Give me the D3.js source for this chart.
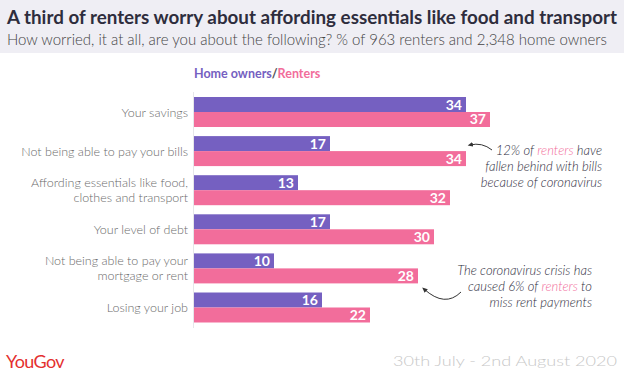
<!DOCTYPE html>
<html><head><meta charset="utf-8">
<script src="https://cdn.jsdelivr.net/npm/d3@7/dist/d3.min.js"></script>
<style>html,body{margin:0;padding:0;background:#fff;}svg{display:block;font-family:Lato,"Open Sans",sans-serif;}</style>
</head><body>
<svg id="c" width="624" height="375"></svg>
<script>
const categories = [
  ["Your savings"],
  ["Not being able to pay your bills"],
  ["Affording essentials like food,", "clothes and transport"],
  ["Your level of debt"],
  ["Not being able to pay your", "mortgage or rent"],
  ["Losing your job"]
];
const series = ["Home owners", "Renters"];
const homeOwners = [34, 17, 13, 17, 10, 16];
const renters = [37, 34, 32, 30, 28, 22];
const colors = ["#7560c1", "#f26d9b"];

const svg = d3.select("#c");
svg.append("rect").attr("x",0).attr("y",0).attr("width",624).attr("height",53).attr("fill","#efeef4");
svg.append("text").attr("x",7).attr("y",24).attr("font-size",19).attr("font-weight",700).attr("fill","#2e2d3d")
  .attr("textLength",610).attr("lengthAdjust","spacingAndGlyphs")
  .text("A third of renters worry about affording essentials like food and transport");
svg.append("text").attr("x",7).attr("y",45).attr("font-size",15).attr("font-weight",300).attr("fill","#444")
  .text("How worried, it at all, are you about the following? % of 963 renters and 2,348 home owners");

const x = d3.scaleLinear().domain([0, 40]).range([194, 514]);
const y = d3.scaleBand().domain(d3.range(categories.length)).range([92.45, 327.05]).paddingInner(0.233).paddingOuter(0.1165);
const ys = d3.scaleBand().domain(series).range([0, y.bandwidth()]);

// legend
const lg = svg.append("text").attr("x",194).attr("y",78).attr("font-size",12.5).attr("font-weight",700);
lg.append("tspan").attr("fill",colors[0]).text("Home owners");
lg.append("tspan").attr("fill","#555").text("/");
lg.append("tspan").attr("fill",colors[1]).text("Renters");

svg.append("line").attr("x1",x(0)-0.5).attr("x2",x(0)-0.5).attr("y1",92).attr("y2",328).attr("stroke","#e6e6ea").attr("stroke-width",1);

const data = categories.map((c,i)=>({i, vals:[homeOwners[i], renters[i]]}));
const g = svg.append("g").selectAll("g").data(data).join("g").attr("transform", d=>`translate(0,${y(d.i)})`);
g.selectAll("rect").data(d=>d.vals.map((v,k)=>({v,k}))).join("rect")
  .attr("x", x(0)).attr("y", d=>ys(series[d.k])).attr("width", d=>x(d.v)-x(0)).attr("height", ys.bandwidth())
  .attr("fill", d=>colors[d.k]);
g.selectAll("text.v").data(d=>d.vals.map((v,k)=>({v,k}))).join("text").attr("class","v")
  .attr("x", d=>x(d.v)-4).attr("y", d=>ys(series[d.k])+ys.bandwidth()/2+5).attr("text-anchor","end")
  .attr("font-size",14).attr("font-weight",700).attr("fill","#fff").text(d=>d.v);

// category labels
const cl = svg.append("g").selectAll("text").data(categories).join("text")
  .attr("text-anchor","end").attr("font-size",12.5).attr("font-weight",300).attr("fill","#6b6b6b")
  .attr("y",(d,i)=>y(i)+y.bandwidth()/2 + 4.5 - (d.length-1)*7.5);
cl.selectAll("tspan").data(d=>d).join("tspan").attr("x",188).attr("dy",(d,j)=>j===0?0:15).text(d=>d);

// annotations
function annot(lines, xr, y0, lh) {
  const t = svg.append("text").attr("text-anchor","end").attr("font-size",13).attr("font-style","italic").attr("font-weight",300).attr("fill","#2e2d3d");
  lines.forEach((ln,j)=>{
    const ts = t.append("tspan").attr("x",xr).attr("y",y0+j*lh);
    ln.forEach(seg=>ts.append("tspan").attr("fill",seg[1]||"#2e2d3d").text(seg[0]));
  });
}
annot([[["12% of "],["renters",colors[1]],[" have"]],[["fallen behind with bills"]],[["because of coronavirus"]]], 602, 155, 16);
annot([[["The coronavirus crisis has"]],[["caused 6% of "],["renters",colors[1]],[" to"]],[["miss rent payments"]]], 592, 275, 16);

svg.append("defs").append("marker").attr("id","ah").attr("viewBox","0 0 10 10").attr("refX",5).attr("refY",5)
  .attr("markerWidth",6).attr("markerHeight",6).attr("orient","auto-start-reverse")
  .append("path").attr("d","M0,1 L9,5 L0,9 z").attr("fill","#333");
svg.append("path").attr("d","M492,150 Q482,142 470,145").attr("fill","none").attr("stroke","#333").attr("stroke-width",1).attr("marker-end","url(#ah)");
svg.append("path").attr("d","M461,292 Q445,308 424,289").attr("fill","none").attr("stroke","#333").attr("stroke-width",1).attr("marker-end","url(#ah)");

// footer
svg.append("text").attr("x",6).attr("y",368).attr("font-size",18).attr("font-weight",400).attr("fill","#e4302f").attr("letter-spacing",-0.6).text("YouGov");
svg.append("text").attr("x",617).attr("y",366).attr("text-anchor","end").attr("font-size",14).attr("font-weight",300).attr("fill","#c8c8c8")
  .attr("textLength",224).attr("lengthAdjust","spacingAndGlyphs").text("30th July - 2nd August 2020");
</script>
</body></html>
